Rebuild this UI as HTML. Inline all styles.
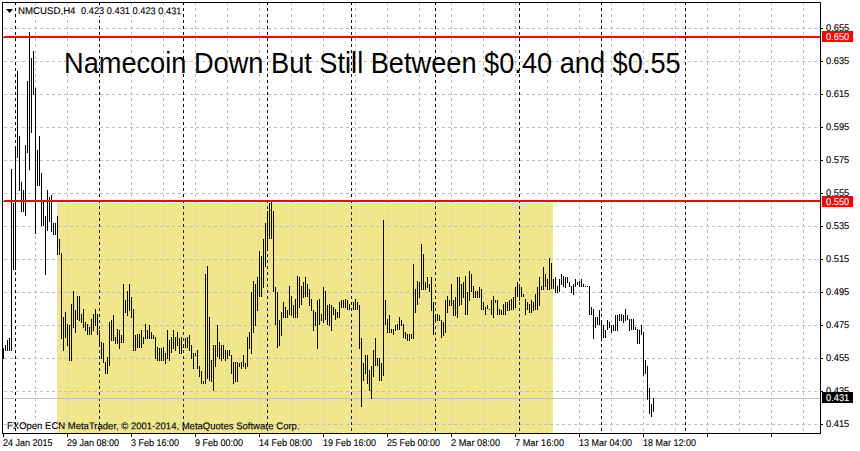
<!DOCTYPE html>
<html><head><meta charset="utf-8"><title>NMCUSD</title>
<style>
html,body{margin:0;padding:0;background:#fff;}
body{width:860px;height:451px;position:relative;overflow:hidden;font-family:"Liberation Sans",sans-serif;}
.s{position:absolute;font-size:10.4px;line-height:12px;color:#000;white-space:nowrap;-webkit-text-stroke:0.12px currentColor;transform-origin:0 0;transform:translateY(0.6px) scale(0.895,0.943) rotate(0.03deg);}
.d{transform:translateY(0.6px) scale(0.865,0.943) rotate(0.03deg);}
.w{color:#fff;}
#title{position:absolute;left:64px;top:47px;font-size:27.2px;line-height:32px;transform-origin:0 26px;transform:translateY(0.9px) scaleY(1.06);color:#000;white-space:nowrap;}
</style></head><body>
<svg width="860" height="451" viewBox="0 0 860 451" shape-rendering="crispEdges" style="position:absolute;left:0;top:0">
<defs><clipPath id="cy"><rect x="57" y="203" width="496" height="230"/></clipPath></defs>
<rect x="0" y="0" width="860" height="451" fill="#fff"/>
<rect x="57" y="203" width="496" height="230" fill="#f0e68c"/>
<path d="M4 28.5H820M4 61.5H820M4 94.5H820M4 127.5H820M4 160.5H820M4 193.5H820M4 226.5H820M4 259.5H820M4 292.5H820M4 325.5H820M4 358.5H820M4 391.5H820M4 424.5H820" stroke="#c0c0c0" stroke-width="1" stroke-dasharray="3 3" fill="none"/>
<path d="M35.5 2V433M67.5 2V433M99.5 2V433M131.5 2V433M163.5 2V433M195.5 2V433M227.5 2V433M259.5 2V433M291.5 2V433M323.5 2V433M355.5 2V433M387.5 2V433M419.5 2V433M451.5 2V433M483.5 2V433M515.5 2V433M547.5 2V433M579.5 2V433M611.5 2V433M643.5 2V433M675.5 2V433M707.5 2V433M739.5 2V433M771.5 2V433M803.5 2V433" stroke="#c0c0c0" stroke-width="1" stroke-dasharray="3 3" fill="none"/>
<path d="M35.5 2V433M67.5 2V433M99.5 2V433M131.5 2V433M163.5 2V433M195.5 2V433M227.5 2V433M259.5 2V433M291.5 2V433M323.5 2V433M355.5 2V433M387.5 2V433M419.5 2V433M451.5 2V433M483.5 2V433M515.5 2V433M547.5 2V433M579.5 2V433M611.5 2V433M643.5 2V433M675.5 2V433M707.5 2V433M739.5 2V433M771.5 2V433M803.5 2V433" stroke="#cfd9b3" stroke-width="1" stroke-dasharray="3 3" fill="none" clip-path="url(#cy)"/>
<path d="M15.5 2V433M99.5 2V433M183.5 2V433M267.5 2V433M351.5 2V433M435.5 2V433M519.5 2V433M601.5 2V433M685.5 2V433" stroke="#000" stroke-width="1" stroke-dasharray="3 3" fill="none"/>
<path d="M15.5 2V433M99.5 2V433M183.5 2V433M267.5 2V433M351.5 2V433M435.5 2V433M519.5 2V433M601.5 2V433M685.5 2V433" stroke="#0f1973" stroke-width="1" stroke-dasharray="3 3" fill="none" clip-path="url(#cy)"/>
<rect x="3" y="398" width="817" height="1" fill="#c0c0c0"/>
<path d="M3.5 348V359M5.5 345V351M7.5 340V351M9.5 338V351M11.5 169V351M13.5 203V270M15.5 146V270M17.5 71V158M19.5 136V191M21.5 182V212M23.5 190V212M25.5 145V216M27.5 81V153M29.5 32V170M31.5 58V133M33.5 51V95M35.5 88V234M37.5 150V186M39.5 136V186M41.5 173V226M43.5 202V226M45.5 216V275M47.5 190V231M49.5 197V222M51.5 195V232M53.5 223V235M55.5 223V235M57.5 216V255M59.5 239V255M61.5 253V339M63.5 317V351M65.5 312V338M67.5 324V346M69.5 325V361M71.5 304V361M73.5 291V328M75.5 310V333M77.5 296V320M79.5 296V321M81.5 314V323M83.5 309V328M85.5 322V331M87.5 324V335M89.5 327V335M91.5 319V335M93.5 314V331M95.5 309V326M97.5 314V335M99.5 330V347M101.5 342V359M103.5 343V363M105.5 362V374M107.5 357V374M109.5 322V366M111.5 320V341M113.5 315V341M115.5 337V344M117.5 329V344M119.5 330V349M121.5 335V343M123.5 284V343M125.5 300V313M127.5 291V316M129.5 284V311M131.5 297V318M133.5 309V351M135.5 335V351M137.5 334V348M139.5 334V348M141.5 330V348M143.5 337V344M145.5 324V339M147.5 330V339M149.5 325V339M151.5 332V339M153.5 335V339M155.5 337V359M157.5 347V361M159.5 348V361M161.5 348V361M163.5 347V361M165.5 353V364M167.5 330V359M169.5 340V361M171.5 337V353M173.5 330V349M175.5 337V351M177.5 332V346M179.5 338V354M181.5 337V354M183.5 345V348M185.5 338V348M187.5 337V348M189.5 335V351M191.5 345V359M193.5 353V369M195.5 353V356M197.5 350V369M199.5 366V377M201.5 371V384M203.5 381V384M205.5 274V384M207.5 266V379M209.5 317V381M211.5 360V382M213.5 345V391M215.5 345V367M217.5 325V357M219.5 342V359M221.5 345V361M223.5 345V359M225.5 350V361M227.5 350V359M229.5 350V356M231.5 355V374M233.5 362V384M235.5 362V382M237.5 362V382M239.5 363V367M241.5 362V369M243.5 355V367M245.5 363V369M247.5 337V367M249.5 332V349M251.5 292V354M253.5 281V333M255.5 284V326M257.5 277V311M259.5 251V297M261.5 256V297M263.5 239V288M265.5 223V267M267.5 211V251M269.5 203V239M271.5 202V239M273.5 211V292M275.5 287V325M277.5 292V348M279.5 320V346M281.5 312V336M283.5 302V318M285.5 307V318M287.5 310V318M289.5 286V315M291.5 296V316M293.5 305V318M295.5 299V318M297.5 276V318M299.5 277V308M301.5 286V305M303.5 282V298M305.5 277V297M307.5 284V297M309.5 289V306M311.5 299V311M313.5 310V331M315.5 312V326M317.5 300V349M319.5 299V325M321.5 314V321M323.5 287V323M325.5 291V320M327.5 305V325M329.5 304V326M331.5 305V331M333.5 307V315M335.5 309V320M337.5 312V318M339.5 302V318M341.5 300V308M343.5 300V308M345.5 299V308M347.5 300V310M349.5 304V310M351.5 302V305M353.5 302V310M355.5 299V310M357.5 302V310M359.5 305V349M361.5 338V407M363.5 363V381M365.5 355V374M367.5 355V384M369.5 370V391M371.5 366V399M373.5 350V377M375.5 338V366M377.5 358V366M379.5 358V381M381.5 363V381M383.5 220V376M385.5 300V325M387.5 319V333M389.5 315V333M391.5 329V333M393.5 329V335M395.5 325V331M397.5 324V330M399.5 317V330M401.5 320V326M403.5 324V338M405.5 332V339M407.5 334V341M409.5 334V341M411.5 334V339M413.5 264V339M415.5 289V313M417.5 281V305M419.5 282V298M421.5 244V290M423.5 254V290M425.5 282V290M427.5 277V288M429.5 284V292M431.5 277V311M433.5 302V335M435.5 315V321M437.5 314V321M439.5 315V321M441.5 320V338M443.5 322V336M445.5 300V333M447.5 296V313M449.5 300V306M451.5 284V306M453.5 300V316M455.5 297V316M457.5 277V318M459.5 277V306M461.5 284V305M463.5 282V298M465.5 276V315M467.5 292V315M469.5 271V301M471.5 274V292M473.5 286V298M475.5 291V298M477.5 291V298M479.5 287V298M481.5 289V310M483.5 302V310M485.5 307V315M487.5 305V309M489.5 309V310M491.5 300V315M493.5 296V318M495.5 300V303M497.5 300V315M499.5 309V315M501.5 310V315M503.5 304V315M505.5 302V315M507.5 302V311M509.5 300V311M511.5 299V310M513.5 297V310M515.5 287V308M517.5 282V297M519.5 287V301M521.5 287V297M523.5 294V297M525.5 299V315M527.5 302V310M529.5 304V313M531.5 300V313M533.5 302V311M535.5 294V310M537.5 287V310M539.5 277V306M541.5 286V290M543.5 267V290M545.5 274V287M547.5 279V290M549.5 258V290M551.5 263V289M553.5 279V289M555.5 277V293M557.5 286V293M559.5 279V292M561.5 274V285M563.5 276V287M565.5 277V288M567.5 277V283M569.5 282V287M571.5 286V293M573.5 284V295M575.5 279V287M577.5 282V285M579.5 281V287M581.5 279V287M583.5 284V287M585.5 286V287M587.5 286V287M589.5 286V315M591.5 307V315M593.5 309V339M595.5 317V328M597.5 317V325M599.5 310V325M601.5 320V341M603.5 325V338M605.5 330V338M607.5 320V330M609.5 322V328M611.5 325V333M613.5 325V331M615.5 315V331M617.5 315V331M619.5 314V321M621.5 314V321M623.5 315V323M625.5 309V321M627.5 315V320M629.5 319V331M631.5 319V330M633.5 319V330M635.5 327V330M637.5 329V344M639.5 330V344M641.5 325V335M643.5 332V376M645.5 360V374M647.5 366V400M649.5 388V414M651.5 404V417M653.5 398V412" stroke="#000" stroke-width="1" fill="none"/>
<path d="M4 36H820V38H3V37H4Z" fill="#ff0000"/>
<path d="M4 200H820V202H3V201H4Z" fill="#ff0000"/>
<rect x="2" y="2" width="819" height="1" fill="#000"/>
<rect x="2" y="2" width="1" height="432" fill="#000"/>
<rect x="820" y="2" width="1" height="432" fill="#000"/>
<rect x="2" y="433" width="819" height="1" fill="#000"/>
<rect x="821" y="28" width="2" height="1" fill="#000"/>
<rect x="821" y="61" width="2" height="1" fill="#000"/>
<rect x="821" y="94" width="2" height="1" fill="#000"/>
<rect x="821" y="127" width="2" height="1" fill="#000"/>
<rect x="821" y="160" width="2" height="1" fill="#000"/>
<rect x="821" y="193" width="2" height="1" fill="#000"/>
<rect x="821" y="226" width="2" height="1" fill="#000"/>
<rect x="821" y="259" width="2" height="1" fill="#000"/>
<rect x="821" y="292" width="2" height="1" fill="#000"/>
<rect x="821" y="325" width="2" height="1" fill="#000"/>
<rect x="821" y="358" width="2" height="1" fill="#000"/>
<rect x="821" y="391" width="2" height="1" fill="#000"/>
<rect x="821" y="424" width="2" height="1" fill="#000"/>
<rect x="3" y="434" width="1" height="3" fill="#000"/>
<rect x="67" y="434" width="1" height="3" fill="#000"/>
<rect x="131" y="434" width="1" height="3" fill="#000"/>
<rect x="195" y="434" width="1" height="3" fill="#000"/>
<rect x="259" y="434" width="1" height="3" fill="#000"/>
<rect x="323" y="434" width="1" height="3" fill="#000"/>
<rect x="387" y="434" width="1" height="3" fill="#000"/>
<rect x="451" y="434" width="1" height="3" fill="#000"/>
<rect x="515" y="434" width="1" height="3" fill="#000"/>
<rect x="579" y="434" width="1" height="3" fill="#000"/>
<rect x="643" y="434" width="1" height="3" fill="#000"/>
<rect x="707" y="434" width="1" height="3" fill="#000"/>
<rect x="771" y="434" width="1" height="3" fill="#000"/>
<rect x="822" y="31" width="31" height="11" fill="#ff0000"/>
<rect x="822" y="196" width="31" height="11" fill="#ff0000"/>
<rect x="822" y="392" width="31" height="11" fill="#000"/>
<rect x="18" y="5" width="164" height="11" fill="#fff"/>
<path d="M6 9H13L9.5 13Z" fill="#000" shape-rendering="auto"/>
</svg>
<div class="s" style="left:826px;top:22px">0.655</div>
<div class="s" style="left:826px;top:55px">0.635</div>
<div class="s" style="left:826px;top:88px">0.615</div>
<div class="s" style="left:826px;top:121px">0.595</div>
<div class="s" style="left:826px;top:154px">0.575</div>
<div class="s" style="left:826px;top:187px">0.555</div>
<div class="s" style="left:826px;top:220px">0.535</div>
<div class="s" style="left:826px;top:253px">0.515</div>
<div class="s" style="left:826px;top:286px">0.495</div>
<div class="s" style="left:826px;top:319px">0.475</div>
<div class="s" style="left:826px;top:352px">0.455</div>
<div class="s" style="left:826px;top:385px">0.435</div>
<div class="s" style="left:826px;top:418px">0.415</div>
<div class="s w" style="left:826px;top:31px">0.650</div>
<div class="s w" style="left:826px;top:196px">0.550</div>
<div class="s w" style="left:826px;top:392px">0.431</div>
<div class="s d" style="left:3px;top:437px">24 Jan 2015</div>
<div class="s d" style="left:67px;top:437px">29 Jan 08:00</div>
<div class="s d" style="left:131px;top:437px">3 Feb 16:00</div>
<div class="s d" style="left:195px;top:437px">9 Feb 00:00</div>
<div class="s d" style="left:259px;top:437px">14 Feb 08:00</div>
<div class="s d" style="left:323px;top:437px">19 Feb 16:00</div>
<div class="s d" style="left:387px;top:437px">25 Feb 00:00</div>
<div class="s d" style="left:450.5px;top:437px;transform:translateY(0.6px) scale(0.885,0.943) rotate(0.03deg)">2 Mar 08:00</div>
<div class="s d" style="left:514.5px;top:437px;transform:translateY(0.6px) scale(0.885,0.943) rotate(0.03deg)">7 Mar 16:00</div>
<div class="s d" style="left:579px;top:437px">13 Mar 04:00</div>
<div class="s d" style="left:643px;top:437px">18 Mar 12:00</div>
<div class="s" style="left:18px;top:5px;transform:translateY(0.6px) scale(0.931,0.943) rotate(0.03deg)" id="hdr">NMCUSD,H4</div>
<div class="s" style="left:80.7px;top:5px;transform:translateY(0.6px) scale(0.892,0.943) rotate(0.03deg)" id="hdr2">0.423 0.431 0.423 0.431</div>
<div class="s" style="left:7px;top:420px;transform:translateY(0.6px) scale(0.915,0.943) rotate(0.03deg)" id="cp">FXOpen ECN MetaTrader, © 2001-2014, MetaQuotes Software Corp.</div>
<div id="title">Namecoin Down But Still Between $0.40 and $0.55</div>
</body></html>
